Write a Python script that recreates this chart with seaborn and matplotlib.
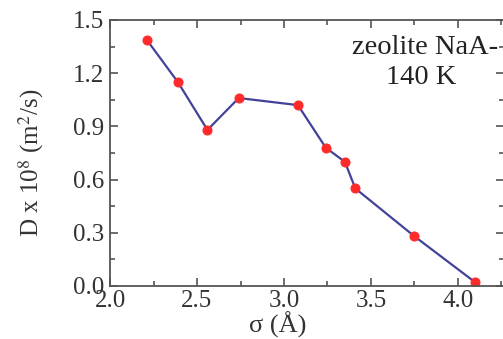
import matplotlib
matplotlib.use("Agg")
import matplotlib.pyplot as plt
import seaborn as sns
import pandas as pd
from matplotlib.ticker import MultipleLocator

sigma = [2.21, 2.39, 2.56, 2.74, 3.08, 3.24, 3.35, 3.41, 3.75, 4.10]
D = [1.39, 1.15, 0.88, 1.06, 1.02, 0.78, 0.70, 0.55, 0.28, 0.02]
xlabel = "σ (Å)"
ylabel = r"D x 10$^{8}$ (m$^{2}$/s)"
note_lines = ["zeolite NaA-", "140 K"]
xticks = [2.0, 2.5, 3.0, 3.5, 4.0]
yticks = [0.0, 0.3, 0.6, 0.9, 1.2, 1.5]

sns.set_theme(style="ticks")
plt.rcParams['font.family'] = ['Liberation Serif', 'DejaVu Serif']
plt.rcParams['mathtext.fontset'] = 'stix'

W, H = 503, 339
fig = plt.figure(figsize=(W / 100, H / 100), dpi=100)
left, right, top, bottom = 110, 504, 20, 286
ax = fig.add_axes([left / W, (H - bottom) / H, (right - left) / W, (bottom - top) / H])

df = pd.DataFrame({"sigma": sigma, "D": D})
sns.lineplot(data=df, x="sigma", y="D", ax=ax, sort=False, color="#42429a", lw=1.6,
             marker="o", markersize=6.5, markerfacecolor="#ff2a2a", markeredgecolor="#ff2a2a")

ax.set_xlim(2.0, 2.0 + (right - left) / 174)
ax.set_ylim(0.0, 1.5)
ax.xaxis.set_minor_locator(MultipleLocator(0.25))
ax.yaxis.set_minor_locator(MultipleLocator(0.15))
ax.set_xticks(xticks)
ax.set_xticklabels([f"{v:.1f}" for v in xticks])
ax.set_yticks(yticks)
ax.set_yticklabels([f"{v:.1f}" for v in yticks])

spine_c = "#555555"
for s in ax.spines.values():
    s.set_color(spine_c)
    s.set_linewidth(1.3)
ax.tick_params(which="both", direction="in", top=True, right=True, color=spine_c, width=1.2)
ax.tick_params(which="major", length=6, labelsize=18, labelcolor="#333333")
ax.tick_params(axis="x", which="major", pad=3)
ax.tick_params(axis="y", which="major", pad=4)
ax.tick_params(which="minor", length=3.5)

ax.set_xlabel(xlabel, fontsize=19, color="#333333")
ax.xaxis.set_label_coords((278 - left) / (right - left), -(338 - bottom) / (bottom - top), transform=ax.transAxes)
ax.xaxis.label.set_va("bottom")
ax.set_ylabel(ylabel, fontsize=18, color="#333333")
ax.yaxis.set_label_coords(-(110 - 31) / (right - left), 0.465)
ax.yaxis.label.set_va("center")

fig.text(352 / W, 1 - 47 / H, note_lines[0], fontsize=20.5, color="#222222", ha="left", va="center")
fig.text(421 / W, 1 - 78 / H, note_lines[1], fontsize=20.5, color="#222222", ha="center", va="center")

fig.savefig("out.png", dpi=100)
